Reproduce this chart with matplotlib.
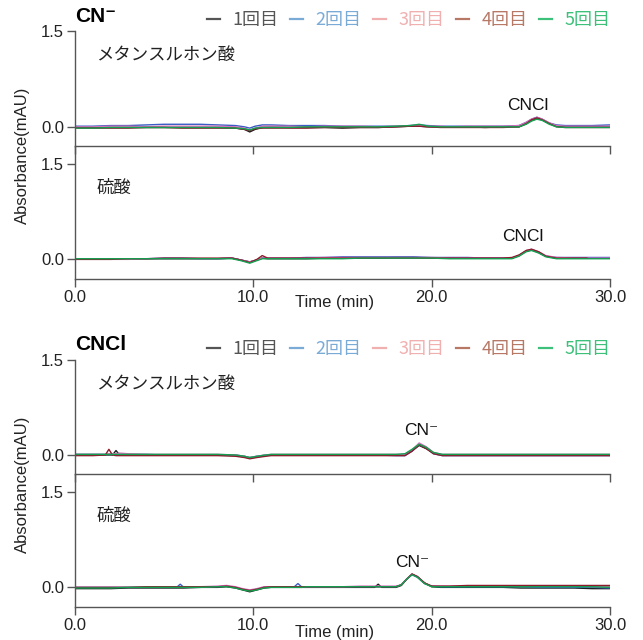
import numpy as np
import matplotlib
matplotlib.use("Agg")
import matplotlib.pyplot as plt
from matplotlib.lines import Line2D

plt.rcParams['font.family'] = ['Liberation Sans Narrow', 'Liberation Sans', 'DejaVu Sans']
JP = ['Noto Sans CJK JP', 'DejaVu Sans']

# run labels and colours
runs = ['1回目', '2回目', '3回目', '4回目', '5回目']
trace_colors = ['#1a1a1a', '#3a5cc4', '#d070b8', '#8c1c2c', '#14a050']
legend_colors = ['#555555', '#7aaad6', '#f0b0b0', '#b87866', '#3cc07a']

nan = np.nan

# --- CN- sample, methanesulfonic acid eluent
t_cn_msa = [0, 1, 2, 3, 4, 5, 6, 7, 8, 9,
            9.5, 9.8, 10.1, 10.5, 11, 12, 13, 14, 15, 16,
            17, 18, 18.8, 19.3, 19.8, 20.5, 21, 22, 23, 24,
            24.9, 25.3, 25.6, 25.9, 26.2, 26.6, 27, 27.5, 28, 29, 30]
cn_msa = [
    [-0.01, -0.01, -0.01, -0.01, -0.01, -0.01, -0.01, -0.01, -0.01, -0.02,
     -0.04, -0.08, -0.04, -0.01, 0.0, -0.01, -0.01, -0.01, -0.02, -0.01,
     -0.01, 0.0, 0.01, 0.01, 0.0, 0.0, 0.0, 0.0, -0.01, 0.0,
     0.0, 0.05, 0.10, 0.13, 0.11, 0.05, 0.01, 0.0, 0.0, 0.0, 0.0],
    [0.01, 0.01, 0.02, 0.02, 0.03, 0.04, 0.04, 0.04, 0.03, 0.02,
     0.0, -0.02, 0.01, 0.03, 0.03, 0.02, 0.02, 0.02, 0.01, 0.01,
     0.01, 0.01, 0.02, 0.03, 0.02, 0.01, 0.01, 0.01, 0.01, 0.01,
     0.02, 0.07, 0.12, 0.15, 0.12, 0.06, 0.03, 0.02, 0.02, 0.02, 0.03],
    [0.0, 0.0, 0.01, 0.01, 0.0, 0.01, 0.01, 0.01, 0.01, 0.0,
     -0.02, -0.05, -0.02, 0.01, 0.01, 0.01, 0.0, 0.01, 0.01, 0.01,
     0.0, 0.01, 0.02, 0.02, 0.01, 0.01, 0.0, 0.01, 0.01, 0.01,
     0.02, 0.07, 0.12, 0.15, 0.12, 0.06, 0.02, 0.01, 0.01, 0.01, 0.01],
    [-0.02, -0.02, -0.02, -0.02, -0.01, -0.01, -0.02, -0.02, -0.02, -0.02,
     -0.04, -0.06, -0.03, -0.02, -0.02, -0.02, -0.02, -0.01, -0.01, -0.01,
     -0.01, 0.0, 0.01, 0.01, 0.0, -0.01, -0.01, -0.01, -0.01, -0.01,
     0.0, 0.05, 0.11, 0.14, 0.11, 0.05, 0.0, -0.01, -0.01, -0.01, -0.01],
    [-0.02, -0.02, -0.01, -0.01, -0.01, -0.01, -0.01, -0.01, -0.01, -0.02,
     -0.03, -0.05, -0.02, -0.01, -0.01, -0.01, 0.0, 0.0, 0.0, 0.0,
     0.0, 0.01, 0.02, 0.04, 0.01, 0.0, 0.0, 0.0, 0.0, 0.0,
     0.0, 0.04, 0.09, 0.12, 0.10, 0.04, 0.0, -0.01, -0.01, -0.01, -0.01],
]

# --- CN- sample, sulfuric acid eluent
t_cn_sa = [0, 1, 2, 3, 4, 5, 6, 7, 8, 8.8,
           9.3, 9.8, 10.2, 10.5, 10.8, 11.5, 12, 13, 14, 15,
           16, 17, 18, 19, 20, 21, 22, 23, 24, 24.5,
           24.9, 25.3, 25.6, 26, 26.4, 27, 28, 28.7, 29, 30]
cn_sa = [
    [0.0, 0.0, 0.0, 0.0, 0.0, 0.0, 0.0, 0.0, 0.0, 0.01,
     -0.02, -0.05, -0.02, 0.01, 0.0, 0.0, 0.0, 0.0, 0.01, 0.01,
     0.01, 0.01, 0.02, 0.02, 0.01, 0.01, 0.01, 0.01, 0.01, 0.01,
     0.05, 0.12, 0.14, 0.10, 0.04, 0.01, 0.01, 0.01, 0.01, 0.01],
    [0.0, 0.0, 0.0, 0.0, 0.0, 0.01, 0.01, 0.0, 0.0, 0.01,
     -0.02, -0.05, -0.02, 0.01, 0.01, 0.01, 0.01, 0.02, 0.02, 0.03,
     0.03, 0.03, 0.03, 0.03, 0.02, 0.02, 0.02, 0.01, 0.01, 0.01,
     0.05, 0.12, 0.14, 0.10, 0.04, 0.02, 0.02, 0.02, 0.02, 0.02],
    [-0.01, -0.01, -0.01, -0.01, 0.0, 0.0, 0.0, 0.0, 0.0, 0.01,
     -0.02, -0.05, -0.02, 0.01, 0.01, 0.01, 0.01, 0.01, 0.02, 0.02,
     0.02, 0.02, 0.02, 0.02, 0.02, 0.01, 0.01, 0.01, 0.01, 0.01,
     0.05, 0.13, 0.15, 0.11, 0.05, 0.02, 0.01, 0.01, 0.01, 0.01],
    [-0.01, -0.01, -0.01, 0.0, 0.0, 0.01, 0.01, 0.01, 0.01, 0.01,
     -0.02, -0.06, -0.01, 0.05, 0.01, 0.01, 0.01, 0.01, 0.01, 0.01,
     0.01, 0.01, 0.01, 0.01, 0.01, 0.01, 0.01, 0.01, 0.01, 0.02,
     0.06, 0.13, 0.15, 0.11, 0.04, 0.01, 0.01, 0.01, nan, nan],
    [0.0, 0.0, 0.0, 0.0, 0.0, 0.0, 0.0, 0.0, 0.0, 0.0,
     -0.03, -0.07, -0.03, 0.0, 0.0, 0.0, 0.0, 0.0, 0.0, 0.0,
     0.01, 0.01, 0.01, 0.01, 0.01, 0.0, 0.0, 0.0, 0.0, 0.0,
     0.04, 0.11, 0.13, 0.09, 0.03, 0.0, 0.0, 0.0, 0.0, 0.0],
]

# --- CNCl sample, methanesulfonic acid eluent
t_cncl_msa = [0, 1, 1.7, 1.9, 2.1, 2.3, 2.5, 3,
              4, 5, 6, 7, 8, 9,
              9.5, 9.8, 10.2, 10.7, 11,
              12, 13, 14, 15, 16, 17, 18,
              18.5, 18.9, 19.3, 19.7, 20.1, 20.6, 21,
              22, 23, 24, 25, 26, 27, 28, 29, 30]
cncl_msa = [
    [0.0, 0.0, 0.0, 0.0, 0.0, 0.07, 0.0, 0.0,
     0.0, 0.0, 0.0, 0.0, 0.0, -0.01,
     -0.03, -0.05, -0.03, -0.01, 0.0,
     0.0, 0.0, 0.0, 0.0, 0.0, 0.0, 0.0,
     0.0, 0.07, 0.15, 0.10, 0.03, 0.0, 0.0,
     0.0, 0.0, 0.0, 0.0, 0.0, 0.0, 0.0, 0.0, 0.0],
    [0.01, 0.01, 0.01, 0.01, 0.01, 0.01, 0.01, 0.01,
     0.01, 0.0, 0.0, 0.0, 0.0, 0.0,
     -0.02, -0.04, -0.02, 0.0, 0.0,
     0.0, 0.0, 0.0, 0.0, 0.0, 0.0, -0.01,
     -0.01, 0.06, 0.16, 0.11, 0.02, -0.01, -0.01,
     -0.01, -0.01, -0.01, -0.01, -0.01, -0.01, -0.01, -0.01, -0.01],
    [0.01, 0.01, 0.01, 0.02, 0.02, 0.02, 0.03, 0.02,
     0.01, 0.01, 0.01, 0.01, 0.01, 0.0,
     -0.02, -0.04, -0.02, 0.0, 0.01,
     0.01, 0.01, 0.01, 0.01, 0.01, 0.01, 0.01,
     0.01, 0.08, 0.19, 0.13, 0.04, 0.01, 0.01,
     0.01, 0.01, 0.01, 0.01, 0.01, 0.01, 0.01, 0.01, 0.01],
    [-0.01, -0.01, 0.0, 0.09, 0.0, -0.01, -0.01, -0.01,
     -0.01, -0.01, -0.01, -0.01, -0.01, -0.02,
     -0.04, -0.06, -0.04, -0.02, -0.01,
     -0.01, -0.01, -0.01, -0.01, -0.01, -0.01, -0.01,
     -0.01, 0.06, 0.16, 0.10, 0.02, -0.01, -0.01,
     -0.01, -0.01, -0.01, -0.01, -0.01, -0.01, -0.01, -0.01, -0.01],
    [0.01, 0.01, 0.01, 0.01, 0.01, 0.01, 0.01, 0.01,
     0.01, 0.01, 0.01, 0.01, 0.01, 0.0,
     -0.02, -0.04, -0.02, 0.0, 0.01,
     0.01, 0.01, 0.01, 0.01, 0.01, 0.01, 0.01,
     0.02, 0.09, 0.17, 0.12, 0.04, 0.01, 0.01,
     0.01, 0.01, 0.01, 0.01, 0.01, 0.01, 0.01, 0.01, 0.01],
]

# --- CNCl sample, sulfuric acid eluent
t_cncl_sa = [0, 1, 2, 3, 4, 5,
             5.7, 5.9, 6.1,
             7, 8, 8.5, 9, 9.4, 9.8,
             10.2, 10.6, 11, 12,
             12.3, 12.5, 12.7, 13,
             14, 15, 16, 16.8, 17, 17.2,
             18, 18.3, 18.6, 18.9, 19.2, 19.6, 20,
             20.5, 21, 22, 23, 24, 25, 26, 27, 28, 29, 30]
cncl_sa = [
    [-0.03, -0.03, -0.03, -0.02, -0.02, -0.02,
     -0.02, -0.02, -0.02,
     -0.01, -0.01, 0.0, -0.02, -0.05, -0.08,
     -0.05, -0.02, -0.01, -0.01,
     -0.01, -0.01, -0.01, -0.01,
     -0.01, -0.01, -0.01, -0.01, 0.04, -0.01,
     -0.01, 0.02, 0.12, 0.20, 0.16, 0.06, 0.0,
     -0.01, -0.01, -0.01, -0.01, -0.01, -0.02, -0.02, -0.02, -0.02, -0.03, -0.03],
    [-0.01, -0.01, -0.01, -0.01, -0.01, -0.01,
     -0.01, 0.04, -0.01,
     -0.01, 0.0, 0.01, -0.01, -0.04, -0.06,
     -0.04, -0.01, 0.0, 0.0,
     0.0, 0.05, 0.0, 0.0,
     0.0, 0.0, 0.0, 0.0, 0.0, 0.0,
     0.0, 0.03, 0.12, 0.19, 0.15, 0.05, 0.01,
     0.0, 0.0, 0.0, 0.0, 0.0, 0.0, -0.01, -0.01, -0.01, -0.01, -0.02],
    [-0.01, -0.01, -0.01, -0.01, 0.0, 0.0,
     0.0, 0.0, 0.0,
     0.0, 0.01, 0.02, 0.0, -0.03, -0.05,
     -0.03, 0.0, 0.0, 0.0,
     0.0, 0.0, 0.0, 0.0,
     0.0, 0.0, 0.01, 0.01, 0.01, 0.01,
     0.01, 0.03, 0.12, 0.20, 0.16, 0.06, 0.01,
     0.01, 0.01, 0.01, 0.01, 0.01, 0.01, 0.01, 0.01, 0.01, 0.0, 0.0],
    [-0.01, -0.01, -0.01, -0.01, 0.0, 0.0,
     0.0, 0.0, 0.0,
     0.0, 0.0, 0.01, -0.01, -0.04, -0.06,
     -0.04, -0.01, 0.0, 0.0,
     0.0, 0.0, 0.0, 0.0,
     0.0, 0.0, 0.0, 0.0, 0.0, 0.0,
     0.0, 0.03, 0.12, 0.20, 0.16, 0.06, 0.01,
     0.01, 0.01, 0.02, 0.02, 0.02, 0.02, 0.02, 0.02, 0.02, 0.02, 0.02],
    [-0.02, -0.02, -0.02, -0.01, -0.01, -0.01,
     -0.01, -0.01, -0.01,
     -0.01, 0.0, 0.0, -0.02, -0.05, -0.07,
     -0.05, -0.02, -0.01, -0.01,
     -0.01, -0.01, -0.01, 0.0,
     0.0, 0.0, 0.0, 0.0, 0.0, 0.0,
     0.0, 0.03, 0.12, 0.19, 0.15, 0.05, 0.0,
     0.0, 0.0, 0.0, 0.0, 0.0, 0.0, 0.0, 0.0, 0.0, 0.0, -0.01],
]

W, H = 643, 640
fig = plt.figure(figsize=(W / 100, H / 100), dpi=100)


def box(top, bottom):
    # pixel rows -> figure fraction rect
    left, right = 75, 610
    return [left / W, 1 - bottom / H, (right - left) / W, (bottom - top) / H]


spine_col = '#555555'
panels = [
    (box(31, 146), t_cn_msa, cn_msa, (-0.30, 1.5), 'メタンスルホン酸', 'CNCl', (25.4, 0.33), False),
    (box(146, 279), t_cn_sa, cn_sa, (-0.32, 1.78), '硫酸', 'CNCl', (25.1, 0.35), True),
    (box(360, 474), t_cncl_msa, cncl_msa, (-0.30, 1.5), 'メタンスルホン酸', 'CN⁻', (19.4, 0.38), False),
    (box(474, 607), t_cncl_sa, cncl_sa, (-0.32, 1.78), '硫酸', 'CN⁻', (18.9, 0.38), True),
]

axes = []
for rect, t, series, ylim, eluent, peak, peak_xy, labels in panels:
    ax = fig.add_axes(rect)
    for vals, c in zip(series, trace_colors):
        ax.plot(t, vals, color=c, lw=1.0)
    ax.set_xlim(0, 30)
    ax.set_ylim(*ylim)
    ax.set_xticks([0, 10, 20, 30])
    ax.set_yticks([0.0, 1.5])
    ax.set_yticklabels(['0.0', '1.5'])
    if labels:
        ax.set_xticklabels(['0.0', '10.0', '20.0', '30.0'])
    else:
        ax.set_xticklabels([])
    for s in ['top', 'right']:
        ax.spines[s].set_visible(False)
    for s in ['left', 'bottom']:
        ax.spines[s].set_color(spine_col)
        ax.spines[s].set_linewidth(1.0)
    ax.tick_params(direction='out', length=6, width=1.0, color=spine_col,
                   labelsize=12, pad=2, labelcolor='#222222')
    ax.patch.set_alpha(0)
    ax.text(1.2, 1.12, eluent, family=JP, fontsize=12.5, ha='left', va='center', color='#222222')
    ax.text(peak_xy[0], peak_xy[1], peak, fontsize=12.5, ha='center', va='center',
            family=['Liberation Sans', 'DejaVu Sans'], color='#111111')
    axes.append(ax)

# group titles
fig.text(75 / W, 1 - 17 / H, 'CN⁻', fontsize=15, fontweight='bold', ha='left', va='center',
         family=['Liberation Sans', 'DejaVu Sans'])
fig.text(75 / W, 1 - 345 / H, 'CNCl', fontsize=15, fontweight='bold', ha='left', va='center',
         family=['Liberation Sans', 'DejaVu Sans'])

# axis titles
for yc in [155, 484]:
    fig.text(22 / W, 1 - yc / H, 'Absorbance(mAU)', rotation=90, fontsize=12,
             ha='center', va='center', color='#222222')
for yc in [303, 633]:
    fig.text(335 / W, 1 - yc / H, 'Time (min)', fontsize=12, ha='center', va='center',
             color='#222222')

# legends
handles = [Line2D([], [], color=c, lw=1.6) for c in legend_colors]
for ax in (axes[0], axes[2]):
    ax.legend(handles, runs, loc='lower right', bbox_to_anchor=(1.005, 1.0), ncol=5,
              frameon=False, handlelength=0.75, handletextpad=0.7, columnspacing=0.6,
              borderaxespad=0.0, borderpad=0.1, labelcolor=legend_colors,
              prop={'family': JP, 'size': 13})

fig.savefig('out.png', dpi=100, facecolor='white')
